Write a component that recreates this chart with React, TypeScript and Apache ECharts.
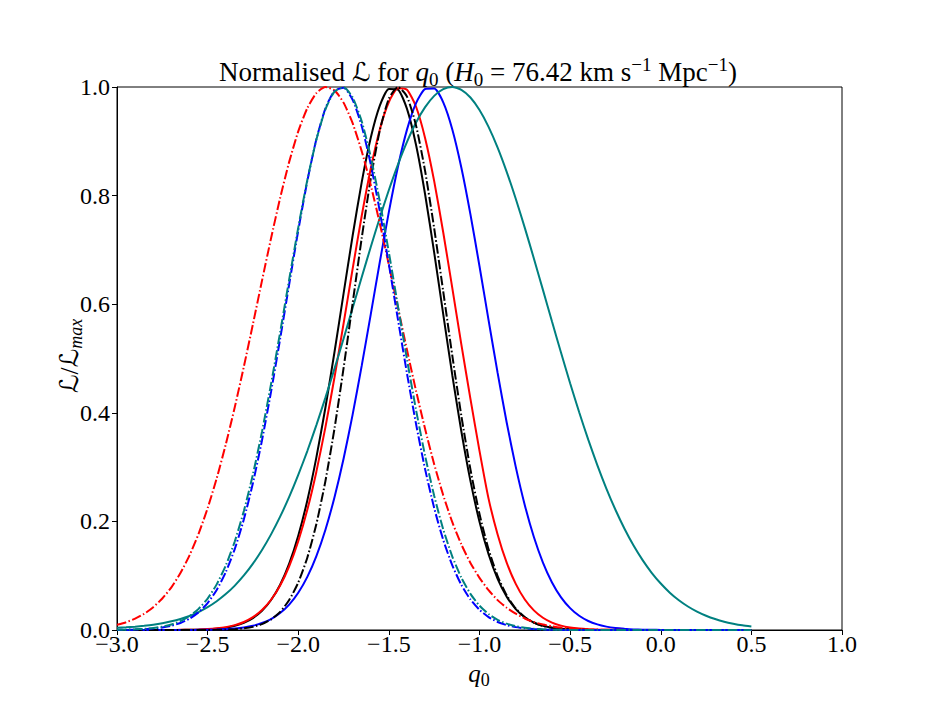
import React, { useEffect, useRef } from "react";
import * as echarts from "echarts";

// x grid (q0)
const Q = [
  -3.0, -2.95, -2.9, -2.85, -2.8, -2.75, -2.7, -2.65, -2.6, -2.55,
  -2.5, -2.45, -2.4, -2.35, -2.3, -2.25, -2.2, -2.15, -2.1, -2.05,
  -2.0, -1.95, -1.9, -1.85, -1.8, -1.75, -1.7, -1.65, -1.6, -1.55,
  -1.5, -1.45, -1.4, -1.35, -1.3, -1.25, -1.2, -1.15, -1.1, -1.05,
  -1.0, -0.95, -0.9, -0.85, -0.8, -0.75, -0.7, -0.65, -0.6, -0.55,
  -0.5, -0.45, -0.4, -0.35, -0.3, -0.25, -0.2, -0.15, -0.1, -0.05,
  0.0, 0.05, 0.1, 0.15, 0.2, 0.25, 0.3, 0.35, 0.4, 0.45,
  0.5,
];

const BLACK_SOLID = [
  0, 0, 0, 0, 0, 0, 0.0001, 0.0002, 0.0003, 0.0006,
  0.0012, 0.0024, 0.0043, 0.0077, 0.0132, 0.0219, 0.0353, 0.0552, 0.0834, 0.1223,
  0.1736, 0.2386, 0.3179, 0.4098, 0.512, 0.6195, 0.7261, 0.8244, 0.9066, 0.9657,
  0.9963, 0.9952, 0.9597, 0.8931, 0.802, 0.6951, 0.5813, 0.4692, 0.3655, 0.2747,
  0.1993, 0.1395, 0.0942, 0.0614, 0.0386, 0.0234, 0.0137, 0.0078, 0.0042, 0.0022,
  0.0011, 0.0006, 0.0003, 0.0001, 0, 0, 0, 0, 0, 0,
  0, 0, 0, 0, 0, 0, 0, 0, 0, 0,
  0,
];

const RED_SOLID = [
  0, 0, 0, 0, 0, 0.0001, 0.0001, 0.0003, 0.0005, 0.0009,
  0.0017, 0.0031, 0.0053, 0.009, 0.0148, 0.0236, 0.0368, 0.0557, 0.082, 0.1174,
  0.1635, 0.2213, 0.2916, 0.3736, 0.4654, 0.5641, 0.665, 0.7624, 0.85, 0.9219,
  0.9724, 0.9976, 0.995, 0.9636, 0.9058, 0.8266, 0.7321, 0.6295, 0.5254, 0.4257,
  0.33, 0.242, 0.176, 0.124, 0.085, 0.0562, 0.0362, 0.0226, 0.0137, 0.008,
  0.0046, 0.0026, 0.0014, 0.0007, 0.0004, 0.0002, 0.0001, 0, 0, 0,
  0, 0, 0, 0, 0, 0, 0, 0, 0, 0,
  0,
];

const BLUE_SOLID = [
  0, 0, 0, 0, 0, 0, 0, 0.0001, 0.0001, 0.0003,
  0.0005, 0.0009, 0.0016, 0.0028, 0.0048, 0.0079, 0.0128, 0.0202, 0.0312, 0.0468,
  0.0686, 0.0979, 0.1362, 0.1847, 0.2446, 0.3154, 0.3967, 0.4863, 0.5814, 0.6777,
  0.77, 0.8531, 0.9215, 0.9704, 0.9963, 0.9972, 0.9718, 0.9219, 0.8514, 0.7655,
  0.6699, 0.5707, 0.4734, 0.3822, 0.3004, 0.2299, 0.1712, 0.1242, 0.0876, 0.0602,
  0.0403, 0.0262, 0.0166, 0.0103, 0.0062, 0.0036, 0.0021, 0.0011, 0.0006, 0.0003,
  0.0002, 0, 0, 0, 0, 0, 0, 0, 0, 0,
  0,
];

const TEAL_SOLID = [
  0.004, 0.005, 0.0062, 0.0078, 0.0098, 0.0125, 0.016, 0.0204, 0.0258, 0.0331,
  0.042, 0.053, 0.0661, 0.0818, 0.1004, 0.1222, 0.1474, 0.1761, 0.2087, 0.2451,
  0.2856, 0.3296, 0.3774, 0.4279, 0.4813, 0.5365, 0.5929, 0.6496, 0.7054, 0.7593,
  0.8104, 0.8572, 0.8989, 0.9345, 0.9629, 0.9837, 0.9961, 1.0, 0.9948, 0.9806,
  0.9576, 0.9266, 0.8884, 0.8438, 0.7942, 0.7406, 0.6842, 0.6264, 0.5681, 0.5105,
  0.4545, 0.401, 0.3505, 0.3036, 0.2604, 0.2214, 0.1865, 0.1556, 0.1287, 0.1054,
  0.0856, 0.0688, 0.0548, 0.0433, 0.0339, 0.0263, 0.0202, 0.0153, 0.0116, 0.0086,
  0.0064,
];

const BLACK_DASHDOT = [
  0, 0, 0, 0, 0, 0, 0, 0, 0, 0.0001,
  0.0001, 0.0003, 0.0007, 0.0015, 0.003, 0.0058, 0.0108, 0.0194, 0.0333, 0.0551,
  0.0874, 0.1332, 0.1951, 0.2745, 0.3712, 0.4821, 0.6017, 0.7215, 0.8313, 0.9201,
  0.9786, 1.0, 0.9824, 0.9288, 0.845, 0.7397, 0.6232, 0.5052, 0.3941, 0.2958,
  0.2137, 0.1485, 0.0994, 0.0639, 0.0396, 0.0236, 0.0135, 0.0075, 0.004, 0.002,
  0.001, 0.0005, 0.0002, 0, 0, 0, 0, 0, 0, 0,
  0, 0, 0, 0, 0, 0, 0, 0, 0, 0,
  0,
];

const RED_DASHDOT = [
  0.0097, 0.0144, 0.0209, 0.0299, 0.042, 0.058, 0.0786, 0.1049, 0.1375, 0.1771,
  0.2243, 0.2792, 0.3416, 0.4107, 0.4852, 0.5634, 0.6434, 0.7215, 0.7956, 0.8621,
  0.9182, 0.9611, 0.9888, 0.9998, 0.9938, 0.9712, 0.9333, 0.8819, 0.8194, 0.7486,
  0.6723, 0.5939, 0.5157, 0.4404, 0.37, 0.3054, 0.2481, 0.1985, 0.1575, 0.1235,
  0.096, 0.0735, 0.055, 0.041, 0.03, 0.0212, 0.0146, 0.01, 0.0068, 0.0045,
  0.003, 0.002, 0.0013, 0.0008, 0.0005, 0.0003, 0.0002, 0, 0, 0,
  0, 0, 0, 0, 0, 0, 0, 0, 0, 0,
  0,
];

const BLUE_DASHDOT = [
  0.0002, 0.0004, 0.0008, 0.0014, 0.0026, 0.0046, 0.0078, 0.0129, 0.0208, 0.0326,
  0.0497, 0.0738, 0.1065, 0.1494, 0.2039, 0.2707, 0.3495, 0.4389, 0.5361, 0.6368,
  0.7358, 0.8269, 0.9037, 0.9607, 0.9932, 0.9987, 0.9765, 0.9282, 0.8579, 0.7708,
  0.6734, 0.572, 0.4723, 0.3792, 0.296, 0.2246, 0.1657, 0.1189, 0.0829, 0.0562,
  0.0371, 0.0238, 0.0148, 0.009, 0.0053, 0.003, 0.0017, 0.0009, 0.0005, 0.0002,
  0, 0, 0, 0, 0, 0, 0, 0, 0, 0,
  0, 0, 0, 0, 0, 0, 0, 0, 0, 0,
  0,
];

const TEAL_DASHDOT = [
  0.0003, 0.0006, 0.0012, 0.0021, 0.0036, 0.0061, 0.0101, 0.0162, 0.0254, 0.0389,
  0.0579, 0.084, 0.1187, 0.1635, 0.2193, 0.2867, 0.3653, 0.4533, 0.548, 0.6456,
  0.741, 0.8288, 0.9031, 0.9588, 0.9917, 0.9995, 0.9808, 0.937, 0.8714, 0.789,
  0.6953, 0.5966, 0.4983, 0.4051, 0.3207, 0.2471, 0.1853, 0.1353, 0.0962, 0.0666,
  0.0448, 0.0294, 0.0188, 0.0117, 0.0071, 0.0042, 0.0024, 0.0013, 0.0007, 0.0004,
  0.0002, 0, 0, 0, 0, 0, 0, 0, 0, 0,
  0, 0, 0, 0, 0, 0, 0, 0, 0, 0,
  0,
];

const X_TICKS = { min: -3.0, max: 1.0, step: 0.5 };
const Y_TICKS = { min: 0.0, max: 1.0, step: 0.2 };

const FONT = "'Liberation Serif', 'DejaVu Serif', serif";
const CAL = "'DejaVu Serif', 'DejaVu Sans', serif";
const DASHDOT = [9.6, 2.4, 1.5, 2.4];

function fmtTick(v: number): string {
  const s = Math.abs(v).toFixed(1);
  return v < -1e-9 ? "\u2212" + s : s;
}

function richSet(size: number, lh: number, calScale: number) {
  const sub = Math.round(size * 0.7);
  const base = { fontFamily: FONT, fontSize: size, lineHeight: lh, color: "#000", fill: "#000" };
  return {
    n: { ...base },
    it: { ...base, fontStyle: "italic" },
    cal: { ...base, fontFamily: CAL, fontSize: Math.round(size * calScale) },
    sub: { ...base, fontSize: sub, lineHeight: sub, verticalAlign: "bottom" },
    subit: { ...base, fontSize: sub, lineHeight: sub, verticalAlign: "bottom", fontStyle: "italic" },
    sup: { ...base, fontSize: sub, lineHeight: sub, verticalAlign: "top" },
  };
}

export default function App() {
  const ref = useRef<HTMLDivElement>(null);

  useEffect(() => {
    document.body.style.margin = "0";
    const chart = echarts.init(ref.current as HTMLDivElement, null, { renderer: "svg" });

    const mk = (name: string, values: number[], color: string, dash: number[] | null, z: number, offset = 0) => ({
      name,
      type: "line",
      data: Q.map((q, i) => [q, values[i]]),
      showSymbol: false,
      symbol: "none",
      smooth: 0.2,
      z,
      silent: true,
      lineStyle: {
        color,
        width: 2,
        type: dash ? dash : "solid",
        dashOffset: offset,
        cap: "butt",
      },
      emphasis: { disabled: true },
    });

    const titleRich = richSet(27, 34, 0.95);
    const axRich = richSet(25, 32, 1.05);

    const option: any = {
      animation: false,
      backgroundColor: "#ffffff",
      grid: {
        left: 117,
        right: 94,
        top: 87,
        bottom: 90,
        show: true,
        borderColor: "#000",
        borderWidth: 1,
        backgroundColor: "transparent",
      },
      xAxis: {
        type: "value",
        min: X_TICKS.min,
        max: X_TICKS.max,
        interval: X_TICKS.step,
        axisLine: { show: true, onZero: false, lineStyle: { color: "#000", width: 1 } },
        axisTick: { show: true, inside: false, length: 5, lineStyle: { color: "#000", width: 1 } },
        axisLabel: {
          color: "#000",
          fontFamily: FONT,
          fontSize: 24,
          lineHeight: 14,
          margin: 7,
          formatter: (v: number) => fmtTick(v),
        },
        splitLine: { show: false },
      },
      yAxis: {
        type: "value",
        min: Y_TICKS.min,
        max: Y_TICKS.max,
        interval: Y_TICKS.step,
        axisLine: { show: true, onZero: false, lineStyle: { color: "#000", width: 1 } },
        axisTick: { show: true, inside: false, length: 5, lineStyle: { color: "#000", width: 1 } },
        axisLabel: {
          color: "#000",
          fontFamily: FONT,
          fontSize: 24,
          lineHeight: 14,
          margin: 7,
          formatter: (v: number) => fmtTick(v),
        },
        splitLine: { show: false },
      },
      graphic: [
        {
          type: "text",
          x: 478,
          y: 72,
          silent: true,
          style: {
            text: "Normalised {cal|\u2112} for {it|q}{sub|0} ({it|H}{sub|0} = 76.42 km s{sup|\u22121} Mpc{sup|\u22121})",
            fontFamily: FONT,
            fontSize: 27,
            lineHeight: 34,
            fill: "#000",
            align: "center",
            verticalAlign: "middle",
            rich: titleRich,
          },
        },
        {
          type: "text",
          x: 479,
          y: 673,
          silent: true,
          style: {
            text: "{it|q}{sub|0}",
            fontFamily: FONT,
            fontSize: 25,
            lineHeight: 32,
            fill: "#000",
            align: "center",
            verticalAlign: "middle",
            rich: axRich,
          },
        },
        {
          type: "text",
          x: 69,
          y: 356,
          rotation: Math.PI / 2,
          silent: true,
          style: {
            text: "{cal|\u2112}/{cal|\u2112}{subit|max}",
            fontFamily: FONT,
            fontSize: 25,
            lineHeight: 32,
            fill: "#000",
            align: "center",
            verticalAlign: "middle",
            rich: axRich,
          },
        },
      ],
      series: [
        mk("black solid", BLACK_SOLID, "#000000", null, 2),
        mk("red solid", RED_SOLID, "#ff0000", null, 2),
        mk("blue solid", BLUE_SOLID, "#0000ff", null, 2),
        mk("teal solid", TEAL_SOLID, "#008080", null, 2),
        mk("black dash-dot", BLACK_DASHDOT, "#000000", DASHDOT, 3),
        mk("red dash-dot", RED_DASHDOT, "#ff0000", DASHDOT, 3),
        mk("blue dash-dot", BLUE_DASHDOT, "#0000ff", DASHDOT, 3, 4),
        mk("teal dash-dot", TEAL_DASHDOT, "#008080", DASHDOT, 3),
      ],
    };

    chart.setOption(option);
    return () => {
      chart.dispose();
    };
  }, []);

  return (
    <div
      ref={ref}
      style={{ position: "absolute", left: 0, top: 0, width: 936, height: 720, background: "#fff" }}
    />
  );
}
